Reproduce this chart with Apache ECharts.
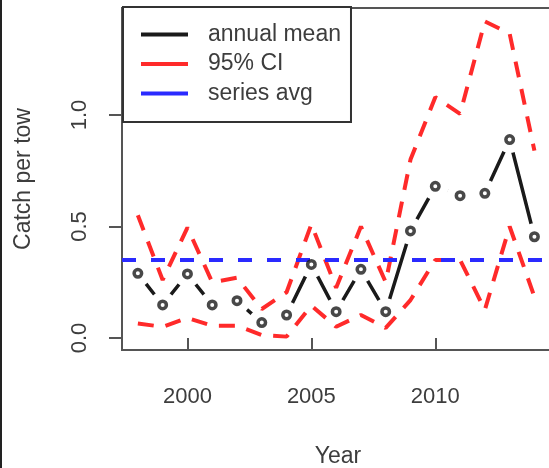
<!DOCTYPE html>
<html>
<head>
<meta charset="utf-8">
<script src="https://cdn.jsdelivr.net/npm/echarts@6/dist/echarts.min.js"></script>
<style>
html,body{margin:0;padding:0;background:#fff;}
#chart{width:549px;height:468px;}
</style>
</head>
<body>
<div id="chart"></div>
<script>
// ---- data ----
const years = [1998,1999,2000,2001,2002,2003,2004,2005,2006,2007,2008,2009,2010,2011,2012,2013,2014];
const meanVals  = [0.29,0.148,0.287,0.148,0.167,0.069,0.103,0.33,0.118,0.308,0.118,0.48,0.68,0.638,0.649,0.89,0.454];
const upperVals = [0.55,0.26,0.495,0.25,0.27,0.13,0.205,0.51,0.225,0.5,0.25,0.80,1.08,1.005,1.42,1.365,0.84];
const lowerVals = [0.065,0.05,0.09,0.055,0.055,0.013,0.006,0.145,0.05,0.103,0.045,0.17,0.35,0.35,0.126,0.50,0.185];
const seriesAvg = 0.35;
const xTicks = [2000,2005,2010];
const yTicks = [0,0.5,1.0];
const legendNames = ['annual mean','95% CI','series avg'];

const pairs = (vals) => years.map((y,i)=>[y, vals[i]]);

const FONT = 'Liberation Sans, Arial, sans-serif';
const TXT = '#3d3d3d';
const FRAME = '#555';

const chart = echarts.init(document.getElementById('chart'), null, {renderer:'canvas'});
chart.setOption({
  animation:false,
  backgroundColor:'#fff',
  textStyle:{fontFamily:FONT},
  grid:{left:122, top:8, width:432, height:342, show:true, borderColor:FRAME, borderWidth:2,
        backgroundColor:'transparent', containLabel:false, outerBoundsMode:'none'},
  graphic:[{type:'rect', left:0, top:0, shape:{width:2, height:468}, style:{fill:'#222'}, silent:true}],
  legend:{
    data:legendNames, orient:'vertical', left:123, top:7,
    padding:[16,10,17,18], itemGap:6.5, itemWidth:47, itemHeight:4, icon:'rect',
    borderColor:'#333', borderWidth:2, backgroundColor:'#fff', borderRadius:0,
    selectedMode:false,
    textStyle:{fontSize:23, color:TXT, fontFamily:FONT, padding:[0,0,0,15]}
  },
  xAxis:{
    type:'value', min:1997.36, max:2014.79,
    axisLine:{show:false},
    splitLine:{show:false},
    axisTick:{show:true, length:13, customValues:xTicks, lineStyle:{color:FRAME, width:2}},
    axisLabel:{customValues:xTicks, margin:36, fontSize:22, color:TXT, fontFamily:FONT, formatter:v=>String(v)},
    name:'Year', nameLocation:'middle', nameGap:95,
    nameTextStyle:{fontSize:23, color:TXT, fontFamily:FONT}
  },
  yAxis:{
    type:'value', min:-0.054, max:1.48,
    axisLine:{show:false},
    splitLine:{show:false},
    axisTick:{show:true, length:13, customValues:yTicks, lineStyle:{color:FRAME, width:2}},
    axisLabel:{customValues:yTicks, rotate:90, margin:31, fontSize:22, color:TXT, fontFamily:FONT, formatter:v=>v.toFixed(1)},
    name:'Catch per tow', nameLocation:'middle', nameGap:87,
    nameTextStyle:{fontSize:23, color:TXT, fontFamily:FONT}
  },
  series:[
    {name:'annual mean', type:'line', data:pairs(meanVals), showSymbol:false, symbol:'none', z:2,
     color:'#1a1a1a', lineStyle:{color:'#1a1a1a', width:3.5}, silent:true},
    {name:'_halo', type:'scatter', data:pairs(meanVals), symbol:'circle', symbolSize:27, z:3,
     itemStyle:{color:'#fff', opacity:1}, silent:true},
    {name:'95% CI', type:'line', data:pairs(upperVals), showSymbol:false, symbol:'none', z:4,
     color:'#ff2a2a', lineStyle:{color:'#ff2a2a', width:4, type:[16,12], cap:'butt'}, silent:true},
    {name:'95% CI', type:'line', data:pairs(lowerVals), showSymbol:false, symbol:'none', z:4,
     color:'#ff2a2a', lineStyle:{color:'#ff2a2a', width:4, type:[16,12], cap:'butt'}, silent:true},
    {name:'series avg', type:'line', data:[], z:4, color:'#2a2aff',
     markLine:{silent:true, symbol:'none', label:{show:false},
       lineStyle:{color:'#2a2aff', width:4, type:[14,15]},
       data:[{yAxis:seriesAvg}]}},
    {name:'annual mean', type:'scatter', data:pairs(meanVals), symbol:'circle', symbolSize:7.5, z:5,
     itemStyle:{color:'#fff', borderColor:'#1a1a1a', borderWidth:3.5}, silent:true}
  ]
});
</script>
</body>
</html>
